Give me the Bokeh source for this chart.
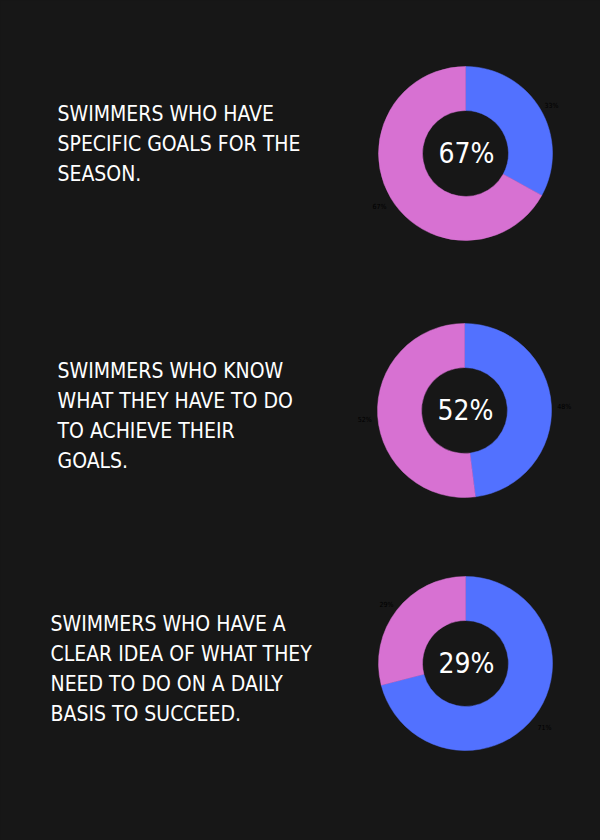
import math
from bokeh.plotting import figure
from bokeh.models import Range1d, ColumnDataSource
from bokeh.embed import file_html
from bokeh.resources import INLINE
from bokeh.core.properties import value

# ---- data ----
questions = [
    ["SWIMMERS WHO HAVE", "SPECIFIC GOALS FOR THE", "SEASON."],
    ["SWIMMERS WHO KNOW", "WHAT THEY HAVE TO DO", "TO ACHIEVE THEIR", "GOALS."],
    ["SWIMMERS WHO HAVE A", "CLEAR IDEA OF WHAT THEY", "NEED TO DO ON A DAILY", "BASIS TO SUCCEED."],
]
no_pct = [33, 48, 71]     # blue slice, drawn first clockwise from top
yes_pct = [67, 52, 29]    # pink slice
center_labels = ["67%", "52%", "29%"]

# ---- layout / style ----
W, H = 600, 840
BG = "#171717"
BLUE = "#5271ff"
PINK = "#d771d2"
FONT = "DejaVu Sans Condensed"
centers = [(465, 153), (464, 410), (465, 663)]
text_x = [57, 57, 50]
first_base = [123, 380, 633]
line_gap = 30
R_OUT, R_IN = 87, 43
SHIFT = 10  # svg baseline correction

p = figure(width=W, height=H, x_range=Range1d(0, W), y_range=Range1d(0, H),
           output_backend="svg", toolbar_location=None, min_border=0)
p.axis.visible = False
p.grid.visible = False
p.outline_line_color = None
p.background_fill_color = BG
p.border_fill_color = BG

for i in range(3):
    cx, cy_px = centers[i]
    cy = H - cy_px
    vals = [no_pct[i], yes_pct[i]]
    cols = [BLUE, PINK]
    total = sum(vals)
    starts, ends, lx, ly, lt = [], [], [], [], []
    acc = 0
    for v in vals:
        a0 = math.pi / 2 - 2 * math.pi * acc / total
        a1 = math.pi / 2 - 2 * math.pi * (acc + v) / total
        starts.append(a0)
        ends.append(a1)
        mid = (a0 + a1) / 2
        lx.append(cx + 100 * math.cos(mid))
        ly.append(cy + 100 * math.sin(mid) - 3)
        lt.append(f"{v}%")
        acc += v
    src = ColumnDataSource(dict(x=[cx, cx], y=[cy, cy], s=starts, e=ends, c=cols))
    p.annular_wedge(x="x", y="y", inner_radius=R_IN, outer_radius=R_OUT,
                    start_angle="s", end_angle="e", direction="clock",
                    fill_color="c", line_color="c", line_width=0.5, source=src)
    p.text(x=lx, y=ly, text=lt, text_color="#000000", text_font_size="7px",
           text_align="center", text_baseline="middle", text_font=value(FONT))
    p.text(x=[cx + 1], y=[H - (cy_px + 10 - SHIFT)], text=[center_labels[i]],
           text_color="#ffffff", text_font_size="28px", text_align="center",
           text_baseline="alphabetic", text_font=value(FONT))
    lines = questions[i]
    ys = [H - (first_base[i] - SHIFT + k * line_gap) for k in range(len(lines))]
    p.text(x=[text_x[i]] * len(lines), y=ys, text=lines, text_color="#ffffff",
           text_font_size="21px", text_align="left", text_baseline="alphabetic",
           text_font=value(FONT))

html = file_html(p, INLINE)
css = "<style>html,body{margin:0;padding:0;background:%s;overflow:hidden}</style>" % BG
html = html.replace("</head>", css + "</head>", 1)
open("out.html", "w").write(html)
